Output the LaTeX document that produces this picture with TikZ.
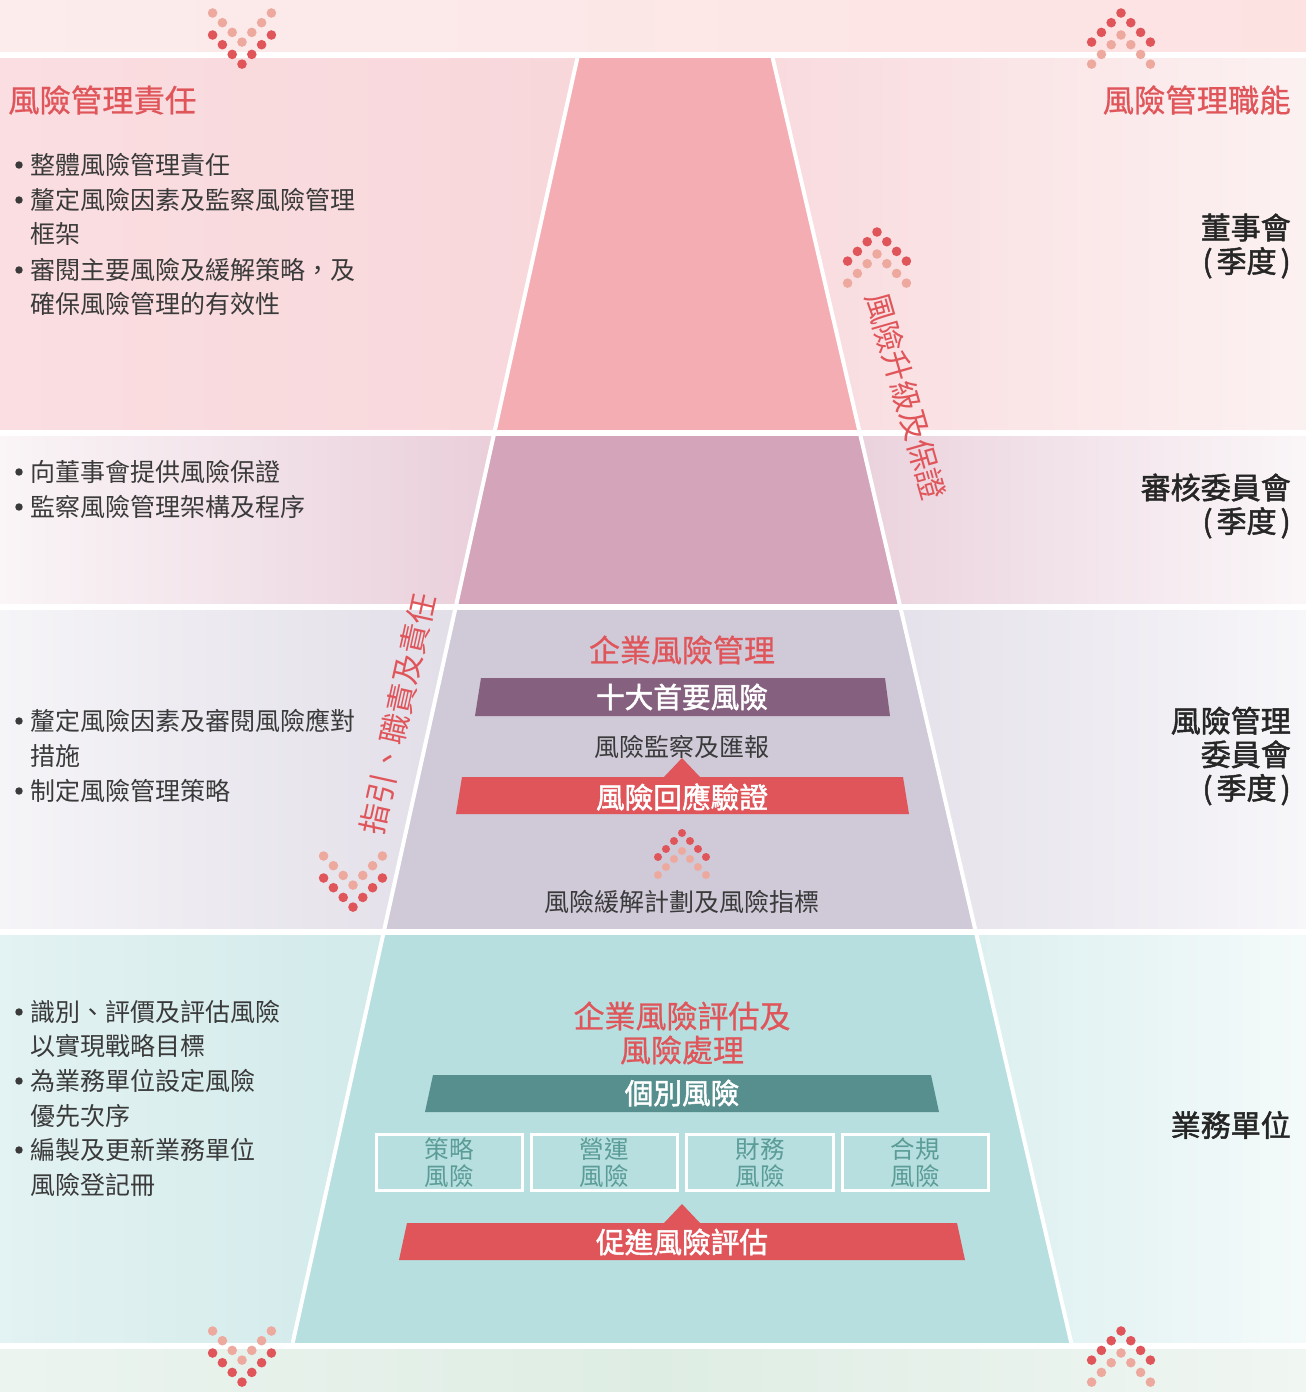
\documentclass[tikz,border=0pt]{standalone}
\usepackage{fontspec}
\setmainfont{Noto Sans CJK TC}
\newfontfamily\medfont{Noto Sans CJK TC}[FakeBold=1.6]
\newfontfamily\semifont{Noto Sans CJK TC}[FakeBold=0.7]
\usepackage{xcolor}
\usepackage{tikz}
\usetikzlibrary{calc,positioning}

\definecolor{riskred}{HTML}{E0555A}
\definecolor{dotpale}{HTML}{EEA99F}
\definecolor{plumbar}{HTML}{86607F}
\definecolor{tealbar}{HTML}{568F8E}
\definecolor{tealtxt}{HTML}{5B9C97}
\definecolor{bodytxt}{HTML}{3A3A3A}
% band colours
\definecolor{bandAl}{HTML}{FCECEC}\definecolor{bandAr}{HTML}{FDE2E2}
\definecolor{bandBl}{HTML}{FADEE1}\definecolor{bandBm}{HTML}{F8D6DA}\definecolor{bandBr}{HTML}{FCF1F1}
\definecolor{bandCl}{HTML}{FAF5F7}\definecolor{bandCm}{HTML}{E4C2D1}\definecolor{bandCr}{HTML}{FAF6F8}
\definecolor{bandDl}{HTML}{F5F4F7}\definecolor{bandDm}{HTML}{DAD5E2}\definecolor{bandDr}{HTML}{F7F6F9}
\definecolor{bandEl}{HTML}{E3F2F2}\definecolor{bandEm}{HTML}{C6E5E5}\definecolor{bandEr}{HTML}{F4FAFA}
\definecolor{bandFl}{HTML}{ECF4EF}\definecolor{bandFm}{HTML}{DEEDE4}\definecolor{bandFr}{HTML}{F0F6F2}
% pyramid colours
\definecolor{pyrA}{HTML}{F4ADB3}
\definecolor{pyrB}{HTML}{D3A4BA}
\definecolor{pyrC}{HTML}{CFC9D8}
\definecolor{pyrD}{HTML}{B7DFE0}

\begin{document}
\begin{tikzpicture}[x=0.75pt, y=-0.75pt,
 itemtxt/.style={anchor=west, inner sep=0pt, text=bodytxt, font=\fontsize{18.75}{22}\selectfont},
 headtxt/.style={inner sep=0pt, text=riskred, font=\semifont\fontsize{23.5}{26}\selectfont},
 rlabel/.style={anchor=east, align=right, inner sep=0pt, text=black!85, font=\medfont\fontsize{22.5}{25.2}\selectfont},
 midtitle/.style={align=center, inner sep=0pt, text=riskred, font=\semifont\fontsize{23.25}{25.5}\selectfont},
 midtxt/.style={inner sep=0pt, text=bodytxt, font=\fontsize{18.75}{22}\selectfont},
 bartxt/.style={inner sep=0pt, text=white, font=\medfont\fontsize{21.5}{24}\selectfont},
 riskbox/.style={draw=white, line width=2.2pt, minimum width=110pt, minimum height=42pt, align=center, inner sep=0pt, text=tealtxt, font=\fontsize{18.4}{20.25}\selectfont},
 sidetxt/.style={inner sep=0pt, text=riskred, font=\fontsize{23}{26}\selectfont}]
\useasboundingbox (0,0) rectangle (1306,1392);

% Background bands
\shade[left color=bandAl, right color=bandAr] (0,0) rectangle (1306,55);
\shade[left color=bandBl, right color=bandBr, middle color=bandBm] (0,55) rectangle (1306,433);
\shade[left color=bandCl, right color=bandCr, middle color=bandCm] (0,433) rectangle (1306,607);
\shade[left color=bandDl, right color=bandDr, middle color=bandDm] (0,607) rectangle (1306,932);
\shade[left color=bandEl, right color=bandEr, middle color=bandEm] (0,932) rectangle (1306,1346);
\shade[left color=bandFl, right color=bandFr, middle color=bandFm] (0,1346) rectangle (1306,1392);

% Pyramid
\fill[pyrA] (578,55) -- (772,55) -- (860,433) -- (494,433) -- cycle;
\fill[pyrB] (494,433) -- (860,433) -- (900,607) -- (456,607) -- cycle;
\fill[pyrC] (456,607) -- (900,607) -- (976,932) -- (384,932) -- cycle;
\fill[pyrD] (384,932) -- (976,932) -- (1072,1346) -- (292,1346) -- cycle;
\draw[white, line width=3pt] (578,55) -- (292,1346);
\draw[white, line width=3pt] (772,55) -- (1072,1346);

% White separators
\foreach \y in {55,433,607,932,1346}
 \draw[white, line width=5pt] (0,\y) -- (1306,\y);

% Column headings
\node[headtxt, anchor=west] (resp) at (8,100) {風險管理責任};
\node[headtxt, anchor=east] (func) at (1291,100) {風險管理職能};

% Left column items
\foreach \y/\t [count=\n] in {165/整體風險管理責任, 200/釐定風險因素及監察風險管理, 234/框架,
 270/審閱主要風險及緩解策略，及, 304/確保風險管理的有效性,
 472/向董事會提供風險保證, 507/監察風險管理架構及程序,
 721/釐定風險因素及審閱風險應對, 756/措施, 791/制定風險管理策略,
 1012/識別、評價及評估風險, 1046/以實現戰略目標, 1081/為業務單位設定風險,
 1116/優先次序, 1150/編製及更新業務單位, 1185/風險登記冊}
 \node[itemtxt] (item\n) at (30,\y) {\t};
\foreach \y in {165,200,270,472,507,721,791,1012,1081,1150}
 \fill[bodytxt] (19,\y) circle (2.8pt);

% Right column bodies
\newcommand\qtr{(\hspace{3pt}季度\hspace{3pt})}
\node[rlabel] (board) at (1291,246) {董事會\\\qtr};
\node[rlabel] (audit) at (1291,506) {審核委員會\\\qtr};
\node[rlabel] (rmc) at (1291,756) {風險管理\\委員會\\\qtr};
\node[rlabel] (bu) at (1291,1125) {業務單位};

% Enterprise risk management
\node[midtitle] (erm) at (682,650) {企業風險管理};
\fill[plumbar] (481,678) -- (885,678) -- (890,716) -- (475,716) -- cycle;
\node[bartxt] (top10) at (682,697) {十大首要風險};
\node[midtxt] (monitor) at (682,747) {風險監察及匯報};
\fill[riskred] (462,777) -- (664,777) -- (682,758) -- (700,777) -- (903,777) -- (909,814) -- (456,814) -- cycle;
\node[bartxt] (verify) at (682,797) {風險回應驗證};
\node[midtxt] (mitig) at (682,902) {風險緩解計劃及風險指標};

% Enterprise risk assessment
\node[midtitle] (era) at (682,1033) {企業風險評估及\\風險處理};
\fill[tealbar] (433,1075) -- (931,1075) -- (939,1112) -- (425,1112) -- cycle;
\node[bartxt] (indiv) at (682,1093) {個別風險};
\foreach \x/\t/\n in {449.5/策略/strat, 604.5/營運/oper, 760/財務/fin, 915.5/合規/comp}
 \node[riskbox] (\n) at (\x,1162.5) {\t\\風險};
\fill[riskred] (407,1223) -- (664,1223) -- (682,1204) -- (700,1223) -- (957,1223) -- (965,1260) -- (399,1260) -- cycle;
\node[bartxt] (assess) at (682,1242) {促進風險評估};

% Side labels
\node[sidetxt, rotate=-74] (escal) at (906,396) {風險升級及保證};
\node[sidetxt, rotate=77.5] (guide) at (398,714) {指引、職責及責任};

% Dot arrows, down
\foreach \cx/\cy in {242/13, 242/1331, 353/856} {
 \foreach \i in {-3,...,3} {
  \fill[dotpale] ({\cx+\i*9.8}, {\cy+29.1-9.7*abs(\i)}) circle (3.6pt);
  \fill[riskred] ({\cx+\i*9.8}, {\cy+51.1-9.7*abs(\i)}) circle (3.6pt);
 }
}
% Dot arrows, up
\foreach \cx/\cy in {1121/13, 1121/1331, 877/232} {
 \foreach \i in {-3,...,3} {
  \fill[riskred] ({\cx+\i*9.8}, {\cy+9.7*abs(\i)}) circle (3.6pt);
  \fill[dotpale] ({\cx+\i*9.8}, {\cy+22+9.7*abs(\i)}) circle (3.6pt);
 }
}
\foreach \i in {-3,...,3} {
 \fill[riskred] ({682+\i*8}, {833+8*abs(\i)}) circle (3pt);
 \fill[dotpale] ({682+\i*8}, {851+8*abs(\i)}) circle (3pt);
}
\end{tikzpicture}
\end{document}
